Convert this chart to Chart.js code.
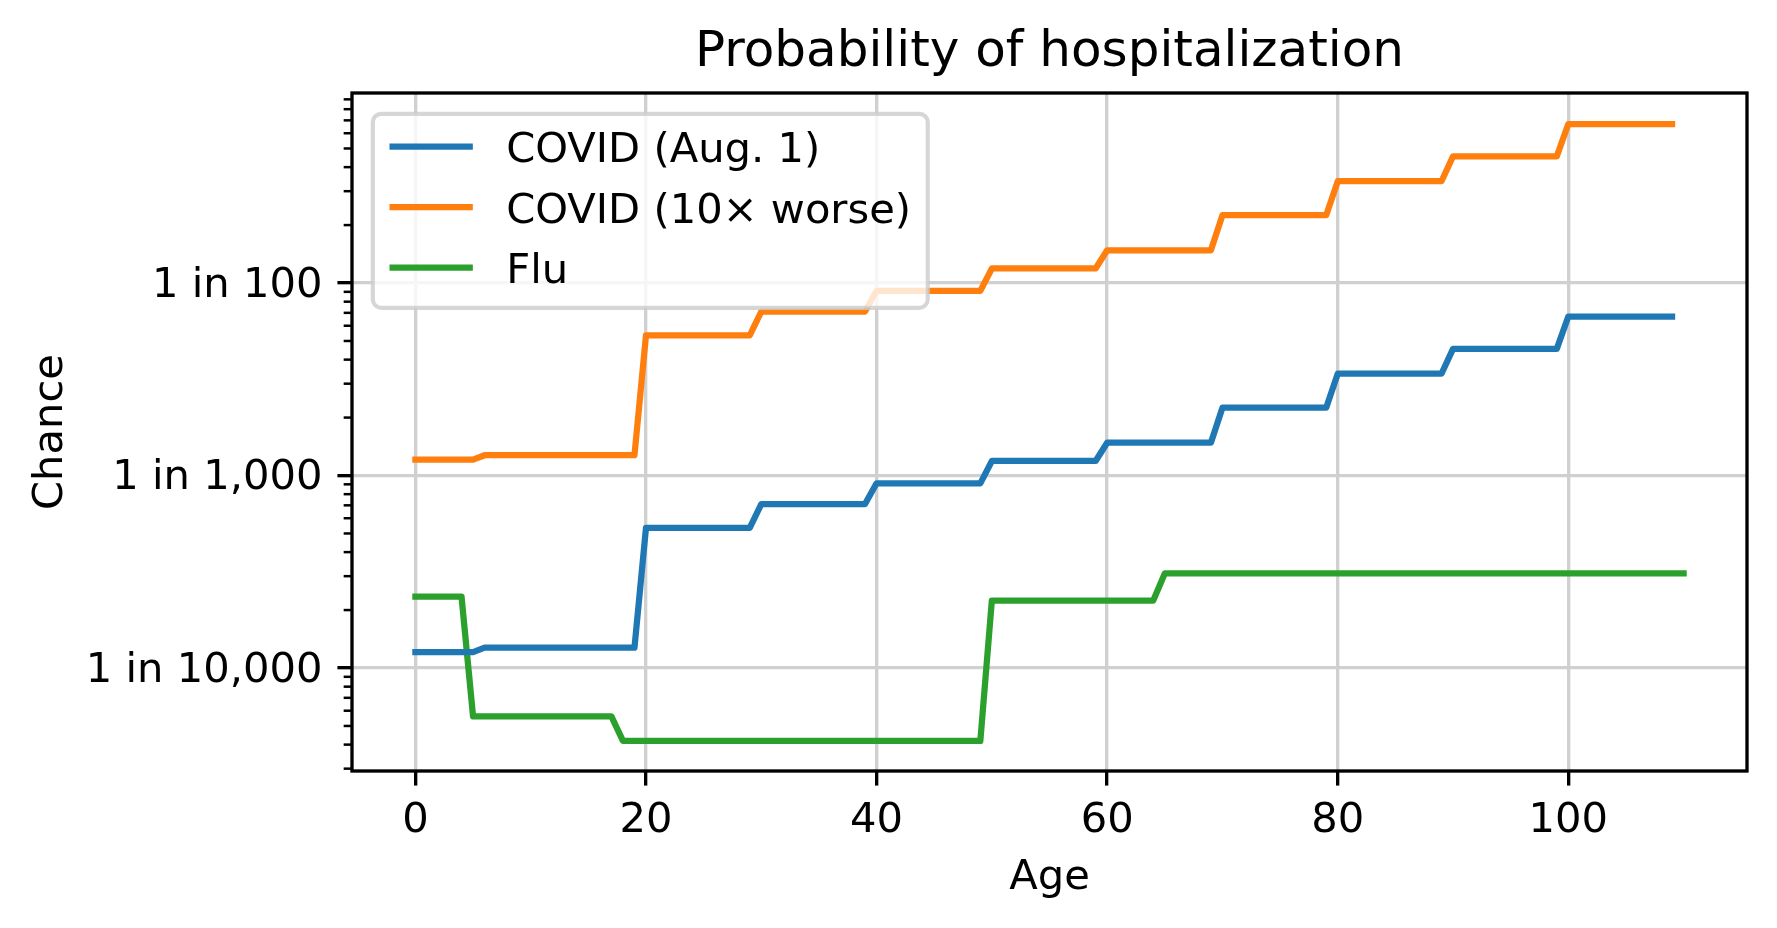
<!DOCTYPE html>
<html>
<head>
<meta charset="utf-8">
<title>Probability of hospitalization</title>
<script src="https://cdn.jsdelivr.net/npm/chart.js@4.4.0/dist/chart.umd.min.js"></script>
<style>
  html, body { margin: 0; padding: 0; background: #fff; }
  #wrap { width: 1777px; height: 928px; }
</style>
</head>
<body>
<div id="wrap"><canvas id="hospChart" width="1777" height="928"></canvas></div>
<script>
// Age bands (first age of each band) and the chance in that band
const covidBandStart = [0, 6, 20, 30, 40, 50, 60, 70, 80, 90, 100];
const covidAug1 = [1.21e-4, 1.275e-4, 5.35e-4, 7.11e-4, 9.11e-4, 1.19e-3, 1.48e-3, 2.25e-3, 3.38e-3, 4.55e-3, 6.70e-3];
const covidWorse = [1.21e-3, 1.275e-3, 5.35e-3, 7.11e-3, 9.11e-3, 1.19e-2, 1.48e-2, 2.25e-2, 3.38e-2, 4.55e-2, 6.70e-2];
const covidLastAge = 109;

const fluBandStart = [0, 5, 18, 50, 65];
const flu = [2.35e-4, 5.61e-5, 4.18e-5, 2.24e-4, 3.10e-4];
const fluLastAge = 110;

const xTickValues = [0, 20, 40, 60, 80, 100];
const yTickValues = [1e-4, 1e-3, 1e-2];
const yTickLabels = ['1 in 10,000', '1 in 1,000', '1 in 100'];

const FONT = 'DejaVu Sans';
const PT = 300 / 72; // matplotlib points -> px at 300 dpi
const gridColor = '#d0d0d0';

// one point per year of age, value of the band that age falls in
function byAge(bandStart, rates, lastAge) {
    const pts = [];
    let b = 0;
    for (let age = 0; age <= lastAge; age++) {
        while (b + 1 < bandStart.length && age >= bandStart[b + 1]) b++;
        pts.push({ x: age, y: rates[b] });
    }
    return pts;
}

// frame, minor y ticks and the boxed legend inside the axes
const axesDecor = {
    id: 'axesDecor',
    afterDatasetsDraw(chart) {
        const ctx = chart.ctx;
        const area = chart.chartArea;
        const yScale = chart.scales.y;

        ctx.save();
        // minor ticks on the log axis
        ctx.strokeStyle = '#000';
        ctx.lineWidth = 0.6 * PT;
        for (let e = -5; e <= -2; e++) {
            for (let k = 2; k <= 9; k++) {
                const v = k * Math.pow(10, e);
                if (v < yScale.min || v > yScale.max) continue;
                const py = yScale.getPixelForValue(v);
                ctx.beginPath();
                ctx.moveTo(area.left - 2 * PT, py);
                ctx.lineTo(area.left, py);
                ctx.stroke();
            }
        }

        // spines
        ctx.lineWidth = 0.8 * PT;
        ctx.lineJoin = 'miter';
        ctx.strokeRect(area.left, area.top, area.right - area.left, area.bottom - area.top);

        // legend
        const fs = 10 * PT;
        ctx.font = fs + 'px "' + FONT + '"';
        const sets = chart.data.datasets;
        let textW = 0;
        sets.forEach(ds => { textW = Math.max(textW, ctx.measureText(ds.label).width); });
        const bx = area.left + 0.5 * fs;
        const by = area.top + 0.5 * fs;
        const bw = 0.4 * fs + 2 * fs + 0.8 * fs + textW + 0.4 * fs;
        const bh = 194;
        const r = 0.2 * fs;
        ctx.beginPath();
        ctx.moveTo(bx + r, by);
        ctx.arcTo(bx + bw, by, bx + bw, by + bh, r);
        ctx.arcTo(bx + bw, by + bh, bx, by + bh, r);
        ctx.arcTo(bx, by + bh, bx, by, r);
        ctx.arcTo(bx, by, bx + bw, by, r);
        ctx.closePath();
        ctx.fillStyle = 'rgba(255,255,255,0.8)';
        ctx.fill();
        ctx.strokeStyle = 'rgba(204,204,204,0.8)';
        ctx.lineWidth = 1.0 * PT;
        ctx.stroke();

        ctx.textAlign = 'left';
        ctx.textBaseline = 'middle';
        sets.forEach((ds, i) => {
            const rowY = by + 32.7 + i * 60.5;
            ctx.strokeStyle = ds.borderColor;
            ctx.lineWidth = ds.borderWidth;
            ctx.lineCap = 'butt';
            ctx.beginPath();
            ctx.moveTo(bx + 0.4 * fs, rowY);
            ctx.lineTo(bx + 2.4 * fs, rowY);
            ctx.stroke();
            ctx.fillStyle = '#000';
            ctx.fillText(ds.label, bx + 3.2 * fs, rowY + 5);
        });
        ctx.restore();
    }
};

const lineStyle = {
    borderWidth: 1.5 * PT,
    pointRadius: 0,
    tension: 0,
    fill: false,
    borderCapStyle: 'square',
    borderJoinStyle: 'round'
};

const ctx = document.getElementById('hospChart').getContext('2d');
const hospChart = new Chart(ctx, {
    type: 'line',
    data: {
        datasets: [
            Object.assign({ label: 'COVID (Aug. 1)', data: byAge(covidBandStart, covidAug1, covidLastAge), borderColor: '#1f77b4' }, lineStyle),
            Object.assign({ label: 'COVID (10\u00d7 worse)', data: byAge(covidBandStart, covidWorse, covidLastAge), borderColor: '#ff7f0e' }, lineStyle),
            Object.assign({ label: 'Flu', data: byAge(fluBandStart, flu, fluLastAge), borderColor: '#2ca02c' }, lineStyle)
        ]
    },
    options: {
        responsive: false,
        devicePixelRatio: 1,
        animation: false,
        events: [],
        layout: { padding: { left: 0, right: 30, top: 0, bottom: 0 } },
        scales: {
            x: {
                type: 'linear',
                min: -5.5,
                max: 115.5,
                bounds: 'data',
                afterBuildTicks: s => { s.ticks = xTickValues.map(v => ({ value: v })); },
                afterFit: s => { s.height = 157; },
                grid: { color: gridColor, lineWidth: 0.8 * PT, tickLength: 3.5 * PT, tickWidth: 0.8 * PT, tickColor: '#000' },
                border: { display: false },
                ticks: {
                    color: '#000',
                    font: { family: FONT, size: 10 * PT },
                    padding: 11,
                    maxRotation: 0,
                    autoSkip: false,
                    callback: v => String(v)
                },
                title: { display: true, text: 'Age', color: '#000', font: { family: FONT, size: 10 * PT }, padding: { top: 0, bottom: 25 } }
            },
            y: {
                type: 'logarithmic',
                min: 2.917e-5,
                max: 0.0971,
                bounds: 'data',
                afterBuildTicks: s => { s.ticks = yTickValues.map(v => ({ value: v })); },
                afterFit: s => { s.width = 352; },
                grid: { color: gridColor, lineWidth: 0.8 * PT, tickLength: 3.5 * PT, tickWidth: 0.8 * PT, tickColor: '#000' },
                border: { display: false },
                ticks: {
                    color: '#000',
                    font: { family: FONT, size: 10 * PT },
                    padding: 15,
                    labelOffset: 3,
                    autoSkip: false,
                    callback: v => {
                        const i = yTickValues.findIndex(t => Math.abs(Math.log10(t) - Math.log10(v)) < 1e-6);
                        return i >= 0 ? yTickLabels[i] : '';
                    }
                },
                title: { display: true, text: 'Chance', color: '#000', font: { family: FONT, size: 10 * PT }, padding: { top: 26, bottom: 0 } }
            }
        },
        plugins: {
            legend: { display: false },
            tooltip: { enabled: false },
            title: {
                display: true,
                text: 'Probability of hospitalization',
                color: '#000',
                fullSize: false,
                font: { family: FONT, size: 12 * PT, weight: 'normal' },
                padding: { top: 23.4, bottom: 9.6 }
            }
        }
    },
    plugins: [axesDecor]
});
</script>
</body>
</html>
